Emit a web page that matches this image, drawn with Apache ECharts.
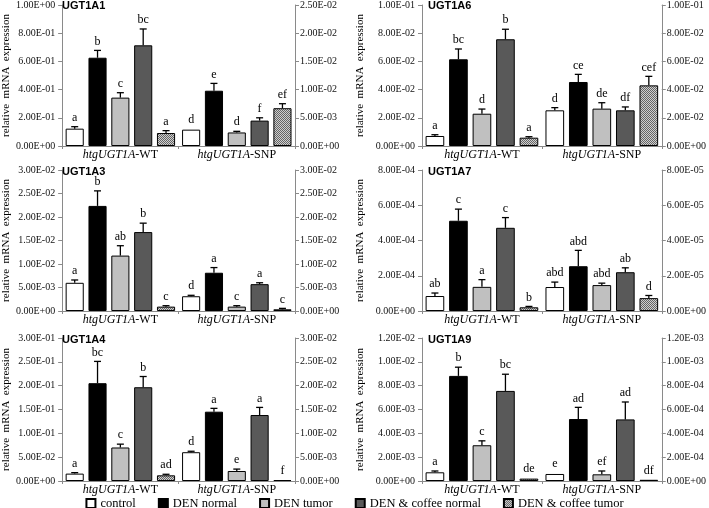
<!DOCTYPE html>
<html><head><meta charset="utf-8">
<script src="https://cdn.jsdelivr.net/npm/echarts@6/dist/echarts.min.js"></script>
<style>html,body{margin:0;padding:0;background:#fff}#c{width:709px;height:508px}</style>
</head><body><div id="c"></div>
<script>
// ---------- data ----------
const groups = ['WT', 'SNP'];
const conditions = ['control', 'DEN normal', 'DEN tumor', 'DEN & coffee normal', 'DEN & coffee tumor'];
const genes = ['UGT1A1', 'UGT1A6', 'UGT1A3', 'UGT1A7', 'UGT1A4', 'UGT1A9'];

// UGT1A1 (WT on left axis, SNP on right axis)
const ugt1a1WT = [0.123, 0.626, 0.343, 0.714, 0.092];
const ugt1a1WTErr = [0.014, 0.052, 0.035, 0.116, 0.017];
const ugt1a1WTSig = ['a', 'b', 'c', 'bc', 'a'];
const ugt1a1SNP = [0.0029, 0.0098, 0.0024, 0.0045, 0.0067];
const ugt1a1SNPErr = [0.0001, 0.0013, 0.0002, 0.0005, 0.0008];
const ugt1a1SNPSig = ['d', 'e', 'd', 'f', 'ef'];

// UGT1A6
const ugt1a6WT = [0.0071, 0.0615, 0.0229, 0.0757, 0.0059];
const ugt1a6WTErr = [0.0009, 0.0073, 0.0033, 0.0071, 0.0007];
const ugt1a6WTSig = ['a', 'bc', 'd', 'b', 'a'];
const ugt1a6SNP = [0.0253, 0.0454, 0.0265, 0.0253, 0.0430];
const ugt1a6SNPErr = [0.0019, 0.0054, 0.0042, 0.0024, 0.0064];
const ugt1a6SNPSig = ['d', 'ce', 'de', 'df', 'cef'];

// UGT1A3
const ugt1a3WT = [0.0060, 0.02236, 0.01179, 0.01679, 0.00093];
const ugt1a3WTErr = [0.0006, 0.0032, 0.0021, 0.0019, 0.0002];
const ugt1a3WTSig = ['a', 'b', 'ab', 'b', 'c'];
const ugt1a3SNP = [0.00314, 0.00814, 0.00093, 0.00571, 0.00036];
const ugt1a3SNPErr = [0.0002, 0.0011, 0.0002, 0.0003, 0.0002];
const ugt1a3SNPSig = ['d', 'a', 'c', 'a', 'c'];

// UGT1A7
const ugt1a7WT = [8.5e-5, 5.12e-4, 1.37e-4, 4.72e-4, 2.1e-5];
const ugt1a7WTErr = [1.7e-5, 6.6e-5, 4.1e-5, 5.8e-5, 5e-6];
const ugt1a7WTSig = ['ab', 'c', 'a', 'c', 'b'];
const ugt1a7SNP = [1.36e-5, 2.54e-5, 1.47e-5, 2.2e-5, 7.3e-6];
const ugt1a7SNPErr = [2.8e-6, 9e-6, 1.1e-6, 2.5e-6, 1.5e-6];
const ugt1a7SNPSig = ['abd', 'abd', 'abd', 'ab', 'd'];

// UGT1A4
const ugt1a4WT = [0.0155, 0.2052, 0.0703, 0.1967, 0.0119];
const ugt1a4WTErr = [0.002, 0.0457, 0.007, 0.0225, 0.0022];
const ugt1a4WTSig = ['a', 'bc', 'c', 'b', 'ad'];
const ugt1a4SNP = [0.00604, 0.01454, 0.0021, 0.01384, 0.0002];
const ugt1a4SNPErr = [0.0002, 0.0007, 0.0004, 0.0016, 0];
const ugt1a4SNPSig = ['d', 'a', 'e', 'a', 'f'];

// UGT1A9
const ugt1a9WT = [7.3e-4, 8.82e-3, 3.0e-3, 7.56e-3, 2.0e-4];
const ugt1a9WTErr = [1.1e-4, 7.3e-4, 3.7e-4, 1.4e-3, 5e-5];
const ugt1a9WTSig = ['a', 'b', 'c', 'bc', 'de'];
const ugt1a9SNP = [5.9e-5, 5.2e-4, 5.6e-5, 5.17e-4, 1e-5];
const ugt1a9SNPErr = [6e-6, 9.8e-5, 2.8e-5, 1.46e-4, 0];
const ugt1a9SNPSig = ['e', 'ad', 'ef', 'ad', 'df'];

// axis scales (left / right)
const leftMax = [1.0, 0.1, 0.03, 8e-4, 0.3, 0.012];
const leftStep = [0.2, 0.02, 0.005, 2e-4, 0.05, 0.002];
const rightMax = [0.025, 0.1, 0.03, 8e-5, 0.03, 0.0012];
const rightStep = [0.005, 0.02, 0.005, 2e-5, 0.005, 0.0002];

const yTitle = 'relative  mRNA  expression';

// ---------- assembly ----------
const panels = [
  [ugt1a1WT, ugt1a1WTErr, ugt1a1WTSig, ugt1a1SNP, ugt1a1SNPErr, ugt1a1SNPSig],
  [ugt1a6WT, ugt1a6WTErr, ugt1a6WTSig, ugt1a6SNP, ugt1a6SNPErr, ugt1a6SNPSig],
  [ugt1a3WT, ugt1a3WTErr, ugt1a3WTSig, ugt1a3SNP, ugt1a3SNPErr, ugt1a3SNPSig],
  [ugt1a7WT, ugt1a7WTErr, ugt1a7WTSig, ugt1a7SNP, ugt1a7SNPErr, ugt1a7SNPSig],
  [ugt1a4WT, ugt1a4WTErr, ugt1a4WTSig, ugt1a4SNP, ugt1a4SNPErr, ugt1a4SNPSig],
  [ugt1a9WT, ugt1a9WTErr, ugt1a9WTSig, ugt1a9SNP, ugt1a9SNPErr, ugt1a9SNPSig]
];

const SERIF = '"Liberation Serif","Times New Roman",serif';
const SANS = '"Liberation Sans",Arial,sans-serif';
const CG = 0.06, BG = 0.26;

// hatched pattern
const pc = document.createElement('canvas');
pc.width = 4; pc.height = 4;
const pctx = pc.getContext('2d');
pctx.fillStyle = '#cfcfcf'; pctx.fillRect(0, 0, 4, 4);
pctx.fillStyle = '#656565';
for (let y = 0; y < 4; y++) for (let x = 0; x < 4; x++) if ((x + y) % 2 === 0) pctx.fillRect(x, y, 1, 1);
const colors = ['#ffffff', '#000000', '#c0c0c0', '#595959', { image: pc, repeat: 'repeat' }];

function fmtE(v) {
  if (v === 0) return '0.00E+00';
  const s = Number(v).toExponential(2).split('e');
  const ex = parseInt(s[1], 10);
  const sign = ex < 0 ? '-' : '+';
  const a = Math.abs(ex);
  return s[0] + 'E' + sign + (a < 10 ? '0' + a : '' + a);
}

const rowsY = [{ top: 5, h: 141 }, { top: 170, h: 141 }, { top: 338, h: 143 }];
const cols = [{ left: 57, w: 238, nameGap: 44, titleX: 62 }, { left: 422, w: 243, nameGap: 56, titleX: 428 }];
const titleTops = [0, 166, 334];

const grid = [], xAxis = [], yAxis = [], series = [], title = [];

panels.forEach((p, k) => {
  const r = Math.floor(k / 2), c = k % 2;
  grid.push({ left: cols[c].left, top: rowsY[r].top, width: cols[c].w, height: rowsY[r].h });
  title.push({ text: genes[k], left: cols[c].titleX, top: titleTops[r], padding: 0,
    textStyle: { fontSize: 11, fontWeight: 'bold', fontFamily: SANS, color: '#000' } });
  xAxis.push({
    type: 'category', gridIndex: k, data: groups,
    axisLine: { lineStyle: { color: '#8a8a8a', width: 1 } },
    axisTick: { show: true, length: 3, lineStyle: { color: '#8a8a8a' } },
    axisLabel: {
      interval: 0, hideOverlap: false,
      margin: 3, fontSize: 12, fontFamily: SERIF, color: '#000',
      formatter: v => '{i|htgUGT1A}-' + v,
      rich: { i: { fontStyle: 'italic', fontSize: 12, fontFamily: SERIF, color: '#000' } }
    }
  });
  const yCommon = {
    type: 'value', gridIndex: k, min: 0,
    splitLine: { show: false },
    axisLine: { show: true, lineStyle: { color: '#8a8a8a', width: 1 } },
    axisTick: { show: true, length: 4, lineStyle: { color: '#8a8a8a' } },
    axisLabel: { fontSize: 10, fontFamily: SERIF, color: '#111', formatter: fmtE }
  };
  yAxis.push(Object.assign({}, yCommon, {
    position: 'left', max: leftMax[k], interval: leftStep[k],
    axisLabel: Object.assign({}, yCommon.axisLabel, { margin: 7 }),
    name: yTitle, nameLocation: 'middle', nameGap: cols[c].nameGap,
    nameTextStyle: { fontSize: 11, fontFamily: SERIF, color: '#000' }
  }));
  yAxis.push(Object.assign({}, yCommon, {
    position: 'right', max: rightMax[k], interval: rightStep[k],
    axisLabel: Object.assign({}, yCommon.axisLabel, { margin: 5 })
  }));

  const [wt, wtErr, wtSig, snp, snpErr, snpSig] = p;
  conditions.forEach((cond, j) => {
    const base = {
      type: 'bar', name: cond, xAxisIndex: k, stack: 'p' + k + 'c' + j,
      barCategoryGap: (CG * 100) + '%', barGap: (BG * 100) + '%',
      itemStyle: { color: colors[j], borderColor: '#000', borderWidth: 1 },
      emphasis: { disabled: true }, animation: false
    };
    series.push(Object.assign({}, base, { yAxisIndex: 2 * k, data: [wt[j], '-'] }));
    series.push(Object.assign({}, base, { yAxisIndex: 2 * k + 1, data: ['-', snp[j]] }));
  });

  [[wt, wtErr, wtSig], [snp, snpErr, snpSig]].forEach(([vals, errs, sigs], g) => {
    series.push({
      type: 'custom', xAxisIndex: k, yAxisIndex: 2 * k + g, z: 10, silent: true, animation: false,
      data: vals.map((v, j) => [g, j, v, errs[j]]),
      renderItem: (params, api) => {
        const cat = api.value(0), j = api.value(1), v = api.value(2), e = api.value(3);
        const b = api.coord([cat, v]);
        const t = api.coord([cat, v + e]);
        const band = api.size([1, 0])[0];
        const span = band * (1 - CG);
        const w = span / (5 + 4 * BG);
        const x = b[0] - span / 2 + w / 2 + j * w * (1 + BG);
        const children = [];
        if (b[1] - t[1] > 0.8) {
          children.push({ type: 'line', shape: { x1: x, y1: b[1], x2: x, y2: t[1] }, style: { stroke: '#000', lineWidth: 1.3 } });
          children.push({ type: 'line', shape: { x1: x - 3.5, y1: t[1], x2: x + 3.5, y2: t[1] }, style: { stroke: '#000', lineWidth: 1.3 } });
        }
        children.push({ type: 'text', style: { text: sigs[params.dataIndex], x: x, y: t[1] - 3,
          align: 'center', verticalAlign: 'bottom', fontSize: 12, fontFamily: SERIF, fill: '#000' } });
        return { type: 'group', children };
      }
    });
  });
});

const chart = echarts.init(document.getElementById('c'), null, { renderer: 'canvas' });
chart.setOption({
  animation: false,
  backgroundColor: '#fff',
  title, grid, xAxis, yAxis, series,
  legend: {
    data: conditions, left: 'center', top: 497, padding: 0,
    itemWidth: 9, itemHeight: 9, itemGap: 22, icon: 'rect',
    textStyle: { fontSize: 12.5, fontFamily: SERIF, color: '#000' }
  }
});
</script>
</body></html>
